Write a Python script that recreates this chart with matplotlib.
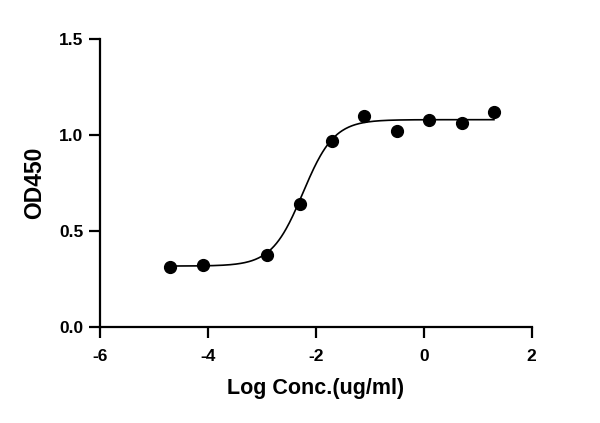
import numpy as np
import matplotlib
matplotlib.use("Agg")
import matplotlib.pyplot as plt

# measured points
log_conc = [-4.7, -4.1, -2.9, -2.3, -1.7, -1.1, -0.5, 0.1, 0.7, 1.3]
od450 = [0.312, 0.323, 0.372, 0.641, 0.970, 1.100, 1.019, 1.078, 1.064, 1.121]

# 4PL fit parameters
bottom = 0.316
top = 1.079
log_ec50 = -2.24
hill = 1.5

plt.rcParams["font.family"] = ["Liberation Sans", "DejaVu Sans"]
plt.rcParams["font.weight"] = "bold"
plt.rcParams["axes.unicode_minus"] = False

fig = plt.figure(figsize=(6, 4.23), dpi=100)
ax = fig.add_axes([0.1667, 0.2277, 0.7195, 0.6803])

xs = np.linspace(min(log_conc), max(log_conc), 400)
ys = bottom + (top - bottom) / (1 + 10 ** ((log_ec50 - xs) * hill))
ax.plot(xs, ys, color="black", lw=1.2)
ax.plot(log_conc, od450, "o", color="black", ms=8.5, clip_on=False)

ax.set_xlim(-6, 2)
ax.set_ylim(0, 1.5)
ax.set_xticks([-6, -4, -2, 0, 2])
ax.set_yticks([0, 0.5, 1.0, 1.5])
ax.set_yticklabels(["0.0", "0.5", "1.0", "1.5"])

for s in ["top", "right"]:
    ax.spines[s].set_visible(False)
for s in ["left", "bottom"]:
    ax.spines[s].set_linewidth(1.6)
ax.tick_params(width=1.6, length=8, labelsize=12.5, pad=4)
ax.tick_params(axis="x", pad=8)
for lbl in ax.get_xticklabels() + ax.get_yticklabels():
    lbl.set_fontweight("bold")

ax.set_xlabel("Log Conc.(ug/ml)", fontsize=15.5, fontweight="bold", labelpad=10)
ax.set_ylabel("OD450", fontsize=16.5, fontweight="bold", labelpad=9)

fig.savefig("out.png", dpi=100)
